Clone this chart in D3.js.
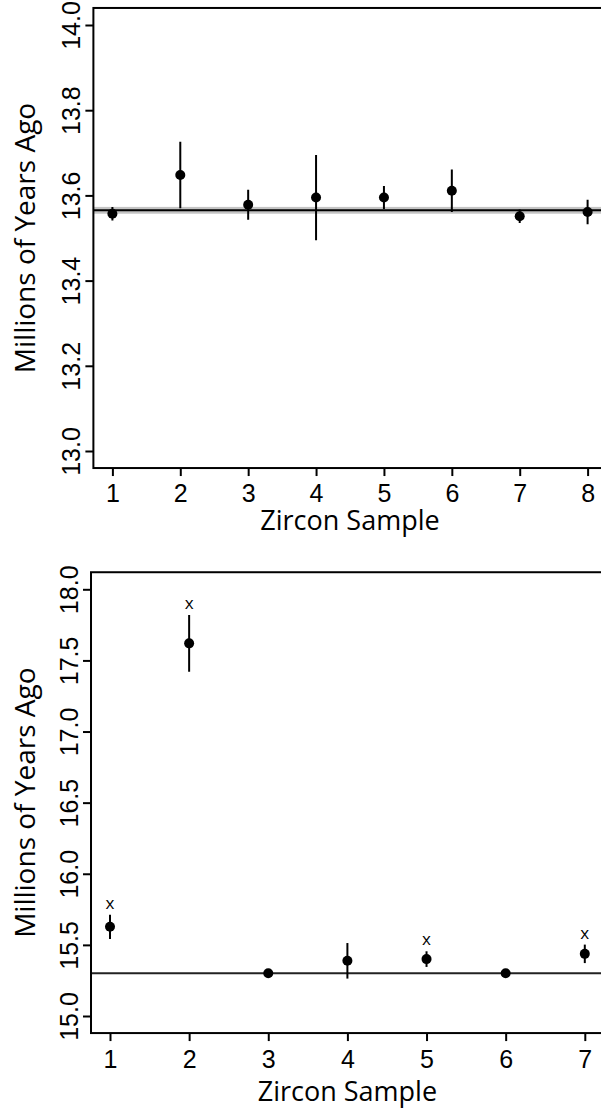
<!DOCTYPE html>
<html>
<head>
<meta charset="utf-8">
<style>
  body { margin: 0; background: #fff; }
  svg { display: block; font-family: "Open Sans", sans-serif; }
  .frame { fill: none; stroke: #000; stroke-width: 2; }
  .tick line { stroke: #000; stroke-width: 2; }
  .tick text { font-size: 25px; fill: #000; }
  .title { font-size: 27px; fill: #000; }
  .ytitle { font-size: 28px; fill: #000; }
  .err { stroke: #000; stroke-width: 2; }
  .dot { fill: #000; }
  .flag { font-size: 17px; fill: #000; }
</style>
</head>
<body>
<script src="https://cdn.jsdelivr.net/npm/d3@7"></script>
<script>
(function () {
  "use strict";

  // top panel: 8 zircons, weighted mean with its error band
  var topSamples = [1, 2, 3, 4, 5, 6, 7, 8],
    topAge = [13.557, 13.648, 13.578, 13.595, 13.595, 13.611, 13.551, 13.561],
    topErr = [0.016, 0.078, 0.035, 0.100, 0.027, 0.050, 0.016, 0.029],
    topMean = 13.565, topMeanErr = 0.008,
    topTicks = [13.0, 13.2, 13.4, 13.6, 13.8, 14.0];

  // bottom panel: 7 zircons, "x" marks the rejected ones
  var botSamples = [1, 2, 3, 4, 5, 6, 7],
    botAge = [15.627, 17.620, 15.300, 15.388, 15.400, 15.300, 15.437],
    botErr = [0.085, 0.200, 0.008, 0.125, 0.055, 0.008, 0.065],
    botFlag = [true, true, false, false, true, false, true],
    botMean = 15.300, botMeanErr = 0,
    botTicks = [15.0, 15.5, 16.0, 16.5, 17.0, 17.5, 18.0];

  var width = 601, height = 1108, svg;

  svg = d3.select("body").append("svg")
    .attr("width", width)
    .attr("height", height);

  function panel(o) {
    var g = svg.append("g"),
      x = d3.scaleLinear().domain(o.xDomain).range(o.xRange),
      y = d3.scaleLinear().domain(o.yDomain).range(o.yRange),
      xPad = (o.xDomain[1] - o.xDomain[0]) * 0.04,
      yPad = (o.yDomain[1] - o.yDomain[0]) * 0.04,
      left = x(o.xDomain[0] - xPad), right = x(o.xDomain[1] + xPad),
      top = y(o.yDomain[1] + yPad), bottom = y(o.yDomain[0] - yPad),
      data = o.samples.map(function (s, i) {
        return { s: s, v: o.age[i], e: o.err[i], f: o.flag ? o.flag[i] : false };
      }),
      clip = "clip" + o.id;

    g.append("clipPath").attr("id", clip)
      .append("rect")
      .attr("x", left).attr("y", top)
      .attr("width", right - left).attr("height", bottom - top);

    var plot = g.append("g").attr("clip-path", "url(#" + clip + ")");

    if (o.meanErr > 0) {
      plot.append("rect")
        .attr("x", left).attr("width", right - left)
        .attr("y", y(o.mean + o.meanErr))
        .attr("height", y(o.mean - o.meanErr) - y(o.mean + o.meanErr))
        .attr("fill", "#c4c4c4");
    }
    plot.append("line")
      .attr("x1", left).attr("x2", right)
      .attr("y1", y(o.mean)).attr("y2", y(o.mean))
      .attr("stroke", o.meanColor).attr("stroke-width", 2);

    plot.selectAll(".err")
      .data(data)
      .enter().append("line")
      .attr("class", "err")
      .attr("x1", function (d) { return x(d.s); })
      .attr("x2", function (d) { return x(d.s); })
      .attr("y1", function (d) { return y(d.v + d.e); })
      .attr("y2", function (d) { return y(d.v - d.e); });

    plot.selectAll(".dot")
      .data(data)
      .enter().append("circle")
      .attr("class", "dot")
      .attr("cx", function (d) { return x(d.s); })
      .attr("cy", function (d) { return y(d.v); })
      .attr("r", 5);

    plot.selectAll(".flag")
      .data(data.filter(function (d) { return d.f; }))
      .enter().append("text")
      .attr("class", "flag")
      .attr("text-anchor", "middle")
      .attr("x", function (d) { return x(d.s); })
      .attr("y", function (d) { return y(d.v + d.e) - 6; })
      .text("x");

    g.append("rect")
      .attr("class", "frame")
      .attr("x", left).attr("y", top)
      .attr("width", right - left).attr("height", bottom - top);

    var ax = g.append("g")
      .attr("transform", "translate(0," + bottom + ")")
      .call(d3.axisBottom(x).tickValues(o.samples).tickFormat(d3.format("d"))
        .tickSize(8).tickSizeOuter(0));
    ax.select(".domain").remove();
    ax.selectAll(".tick text")
      .attr("y", o.xLabelOffset).attr("dy", 0)
      .attr("font-family", null).attr("font-size", null);

    var ay = g.append("g")
      .attr("transform", "translate(" + left + ",0)")
      .call(d3.axisLeft(y).tickValues(o.yTicks).tickFormat(d3.format(".1f"))
        .tickSize(8).tickSizeOuter(0));
    ay.select(".domain").remove();
    ay.selectAll(".tick text")
      .attr("transform", "rotate(-90)")
      .attr("x", 0).attr("y", -13).attr("dy", 0)
      .attr("text-anchor", "middle")
      .attr("font-family", null).attr("font-size", null);

    g.append("text")
      .attr("class", "title")
      .attr("text-anchor", "middle")
      .attr("x", (left + right) / 2)
      .attr("y", o.xTitleY)
      .text("Zircon Sample");

    g.append("text")
      .attr("class", "ytitle")
      .attr("text-anchor", "middle")
      .attr("transform", "translate(35," + (top + bottom) / 2 + ") rotate(-90)")
      .text("Millions of Years Ago");
  }

  panel({
    id: "top",
    samples: topSamples, age: topAge, err: topErr,
    mean: topMean, meanErr: topMeanErr, meanColor: "#000",
    yTicks: topTicks,
    xDomain: [1, 8], xRange: [112.4, 587.6],
    yDomain: [13, 14], yRange: [451, 25],
    xLabelOffset: 34, xTitleY: 530
  });

  panel({
    id: "bot",
    samples: botSamples, age: botAge, err: botErr, flag: botFlag,
    mean: botMean, meanErr: botMeanErr, meanColor: "#222",
    yTicks: botTicks,
    xDomain: [1, 7], xRange: [110, 584.8],
    yDomain: [15, 18], yRange: [1016, 589.3],
    xLabelOffset: 35, xTitleY: 1101
  });
})();
</script>
</body>
</html>
